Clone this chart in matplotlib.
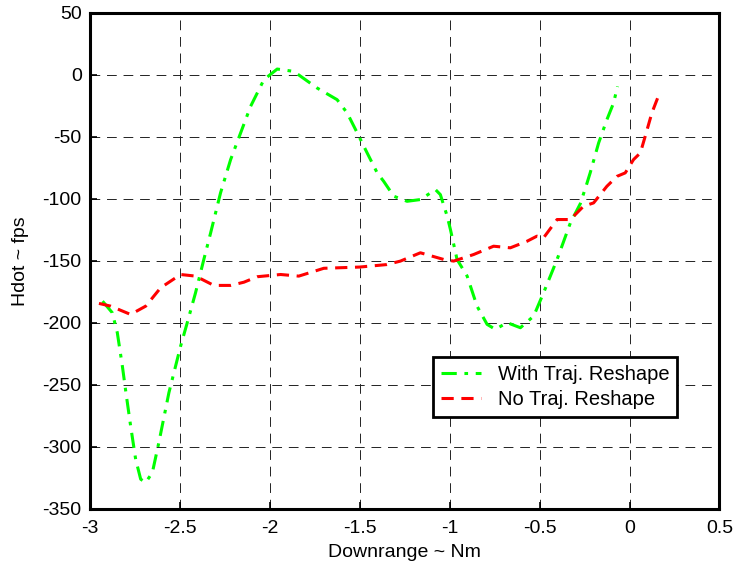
import numpy as np
import matplotlib.pyplot as plt

plt.rcParams['font.family'] = ['Liberation Sans', 'DejaVu Sans']

# with trajectory reshape
x_with = [-2.93, -2.876, -2.848, -2.82, -2.80, -2.774, -2.746, -2.718, -2.69, -2.653,
          -2.617, -2.561, -2.496, -2.459, -2.413, -2.367, -2.329, -2.274, -2.218, -2.107,
          -2.033, -1.959, -1.867, -1.737, -1.626, -1.570, -1.514, -1.459, -1.403, -1.367,
          -1.311, -1.237, -1.163, -1.079, -1.052, -1.014, -0.996, -0.959, -0.903, -0.848,
          -0.792, -0.746, -0.681, -0.607, -0.533, -0.478, -0.403, -0.329, -0.274, -0.238,
          -0.219, -0.172, -0.126, -0.089, -0.067]
h_with = [-182.5, -191.8, -207.9, -234.7, -256.2, -283.0, -309.9, -326.0, -328.6, -320.6,
          -296.4, -256.2, -218.7, -199.8, -175.7, -148.9, -127.4, -95.2, -68.4, -25.5,
          -4.0, 4.6, 2.7, -10.7, -20.1, -30.8, -46.9, -63.0, -79.1, -85.9,
          -97.9, -102.0, -100.6, -92.6, -96.6, -114.0, -124.7, -148.9, -162.3, -186.5,
          -201.2, -205.2, -199.8, -203.9, -194.5, -175.7, -148.9, -119.4, -104.0, -88.0,
          -79.1, -55.0, -36.2, -22.8, -9.4]

# without trajectory reshape
x_no = [-2.95, -2.885, -2.774, -2.69, -2.607, -2.496, -2.413, -2.311, -2.218, -2.144,
        -2.07, -1.94, -1.839, -1.7, -1.5, -1.35, -1.274, -1.163, -1.033, -0.978,
        -0.867, -0.756, -0.663, -0.57, -0.515, -0.478, -0.403, -0.329, -0.256, -0.2,
        -0.126, -0.07, -0.024, 0.022, 0.06, 0.087, 0.124, 0.156]
h_no = [-184.3, -186.5, -193.2, -186.5, -171.7, -161.0, -162.3, -169.8, -169.8, -167.2,
        -162.8, -161.0, -162.3, -156.0, -155.0, -153.0, -150.2, -143.5, -148.9, -150.2,
        -144.9, -138.2, -139.5, -134.2, -130.1, -131.4, -116.7, -116.7, -106.0, -103.3,
        -89.9, -81.9, -79.1, -68.4, -63.0, -49.6, -30.8, -18.8]

fig = plt.figure(figsize=(7.35, 5.67), dpi=100)
ax = fig.add_axes([0.1224, 0.1023, 0.8565, 0.8753])

ax.plot(x_with, h_with, color='#00ff00', lw=2.2, ls=(0, (5, 2.5, 1.2, 2.5)),
        label='With Traj. Reshape')
ax.plot(x_no, h_no, color='#ff0000', lw=2.2, ls=(0, (4, 2.5)),
        label='No Traj. Reshape')

ax.set_xlim(-3, 0.5)
ax.set_ylim(-350, 50)
ax.set_xticks(np.arange(-3, 0.51, 0.5))
ax.set_yticks(np.arange(-350, 51, 50))
ax.set_xticklabels(['-3', '-2.5', '-2', '-1.5', '-1', '-0.5', '0', '0.5'])
ax.set_yticklabels([str(v) for v in range(-350, 51, 50)])

ax.grid(True, color='#222222', lw=0.7, ls=(0, (10, 7)))
ax.tick_params(direction='in', length=5, width=1.2, labelsize=14)
ax.tick_params(axis='x', pad=8)
ax.tick_params(axis='y', pad=6)
for s in ax.spines.values():
    s.set_linewidth(2.2)

ax.set_xlabel('Downrange ~ Nm', fontsize=14, labelpad=5)
ax.set_ylabel('Hdot ~ fps', fontsize=14, labelpad=10)

leg = ax.legend(loc='upper left', bbox_to_anchor=(0.545, 0.307), fontsize=14.5,
                frameon=True, fancybox=False, handlelength=2.0, borderaxespad=0,
                labelspacing=0.3, borderpad=0.4, handletextpad=0.8)
leg.get_frame().set_edgecolor('black')
leg.get_frame().set_linewidth(2.0)
leg.get_frame().set_alpha(1)

fig.savefig('out.png', dpi=100)
